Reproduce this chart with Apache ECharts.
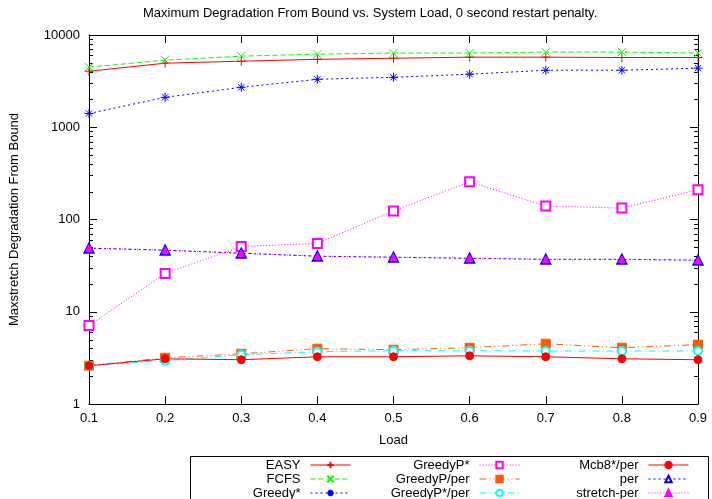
<!DOCTYPE html>
<html>
<head>
<meta charset="utf-8">
<script src="https://cdn.jsdelivr.net/npm/echarts@6/dist/echarts.min.js"></script>
<style>
  html, body { margin: 0; padding: 0; background: #fff; }
  #chart { width: 712px; height: 499px; }
</style>
</head>
<body>
<div id="chart"></div>
<script>
// System load levels on the x axis
const loads = ['0.1', '0.2', '0.3', '0.4', '0.5', '0.6', '0.7', '0.8', '0.9'];

// Maximum stretch degradation from bound, one array per scheduler
const easy        = [4050, 4950, 5200, 5450, 5600, 5750, 5750, 5700, 5700];
const fcfs        = [4480, 5340, 5900, 6200, 6370, 6370, 6530, 6530, 6370];
const greedyStar  = [1410, 2110, 2710, 3310, 3480, 3760, 4150, 4150, 4370];
const greedyPStar = [7.1, 26, 51, 55, 124, 256, 140, 133, 210];
const greedyPPer  = [2.6, 3.17, 3.5, 3.98, 3.88, 4.07, 4.5, 4.07, 4.4];
const greedyPStarPer = [2.6, 2.94, 3.42, 3.69, 3.78, 3.78, 3.75, 3.75, 3.75];
const mcb8StarPer = [2.6, 3.09, 3.02, 3.25, 3.25, 3.33, 3.25, 3.09, 3.02];
const perVals     = [48.9, 46.5, 43.1, 40, 39, 38, 37, 37, 36.2];
const stretchPer  = [48.9, 46.5, 43.1, 40, 39, 38, 37, 37, 36.2];

// Decade labels of the log axis
const yTicks = [1, 10, 100, 1000, 10000];

const FONT = 'Liberation Sans';

const PLUS  = 'path://M0,5L10,5M5,0L5,10';
const CROSS = 'path://M0,0L10,10M10,0L0,10';
const STAR  = 'path://M0,5L10,5M5,0L5,10M1.5,1.5L8.5,8.5M8.5,1.5L1.5,8.5';

function line(name, data, color, dash, symbol, size) {
  return {
    name: name,
    type: 'line',
    data: data,
    symbol: symbol,
    symbolSize: size,
    showAllSymbol: true,
    animation: false,
    lineStyle: { color: color, width: 1, type: dash },
    itemStyle: { color: color, borderColor: color, borderWidth: 1 },
    emphasis: { disabled: true }
  };
}

// Minor tick positions of the log axis (2..9 within each decade)
const minorTicks = [];
for (let d = 0; d < yTicks.length - 1; d++) {
  for (let m = 2; m <= 9; m++) minorTicks.push([0, m * yTicks[d]]);
}

const minorTickSeries = {
  type: 'custom',
  silent: true,
  animation: false,
  data: minorTicks,
  encode: { x: 0, y: 1 },
  z: 1,
  renderItem: function (params, api) {
    const v = api.value(1);
    const pl = api.coord([0, v]);
    const pr = api.coord([loads.length - 1, v]);
    const st = { stroke: '#000', lineWidth: 1 };
    return {
      type: 'group',
      children: [
        { type: 'line', shape: { x1: pl[0], y1: Math.round(pl[1]) + 0.5, x2: pl[0] + 4, y2: Math.round(pl[1]) + 0.5 }, style: st },
        { type: 'line', shape: { x1: pr[0] - 4, y1: Math.round(pr[1]) + 0.5, x2: pr[0], y2: Math.round(pr[1]) + 0.5 }, style: st }
      ]
    };
  }
};

const legendCommon = {
  orient: 'vertical',
  align: 'right',
  top: 458,
  height: 80,
  padding: 0,
  itemGap: 0,
  itemWidth: 40,
  itemHeight: 8,
  selectedMode: false,
  lineStyle: { width: 1 },
  textStyle: { fontFamily: FONT, fontSize: 13, color: '#000', lineHeight: 14, padding: [0, 5, 0, 0] }
};

const axisLine = { show: true, lineStyle: { color: '#000', width: 1 } };
const tick = { show: true, inside: true, length: 8, lineStyle: { color: '#000' } };

const chart = echarts.init(document.getElementById('chart'), null, { renderer: 'canvas' });
chart.setOption({
  backgroundColor: '#fff',
  animation: false,
  title: {
    text: 'Maximum Degradation From Bound vs. System Load, 0 second restart penalty.',
    left: 143,
    top: 7,
    padding: 0,
    textStyle: { fontFamily: FONT, fontSize: 13, fontWeight: 'normal', color: '#000' }
  },
  grid: { left: 89, right: 14, top: 35, bottom: 95, containLabel: false },
  legend: [
    Object.assign({ data: ['EASY', 'FCFS', 'Greedy*'], right: 361 }, legendCommon),
    Object.assign({ data: ['GreedyP*', 'GreedyP/per', 'GreedyP*/per'], right: 192 }, legendCommon),
    Object.assign({ data: ['Mcb8*/per', 'per', 'stretch-per'], right: 23 }, legendCommon)
  ],
  graphic: [
    { type: 'rect', shape: { x: 190.5, y: 456.5, width: 518, height: 60 }, style: { fill: 'none', stroke: '#000', lineWidth: 1 }, silent: true }
  ],
  xAxis: [
    {
      type: 'category',
      data: loads,
      boundaryGap: false,
      position: 'bottom',
      name: 'Load',
      nameLocation: 'middle',
      nameGap: 30,
      nameTextStyle: { fontFamily: FONT, fontSize: 13, color: '#000' },
      axisLine: axisLine,
      axisTick: Object.assign({ alignWithLabel: true }, tick),
      axisLabel: { fontFamily: FONT, fontSize: 13, color: '#000', margin: 8 },
      splitLine: { show: false }
    },
    {
      type: 'category',
      data: loads,
      boundaryGap: false,
      position: 'top',
      axisLine: axisLine,
      axisTick: tick,
      axisLabel: { show: false },
      splitLine: { show: false }
    }
  ],
  yAxis: [
    {
      type: 'log',
      logBase: 10,
      min: yTicks[0],
      max: yTicks[yTicks.length - 1],
      position: 'left',
      name: 'Maxstretch Degradation From Bound',
      nameLocation: 'middle',
      nameGap: 68,
      nameTextStyle: { fontFamily: FONT, fontSize: 13, color: '#000' },
      axisLine: axisLine,
      axisTick: tick,
      axisLabel: {
        fontFamily: FONT, fontSize: 13, color: '#000', margin: 9,
        formatter: function (v) { return String(Math.round(v)); }
      },
      splitLine: { show: false }
    },
    {
      type: 'log',
      logBase: 10,
      min: yTicks[0],
      max: yTicks[yTicks.length - 1],
      position: 'right',
      axisLine: axisLine,
      axisTick: tick,
      axisLabel: { show: false },
      splitLine: { show: false }
    }
  ],
  series: [
    minorTickSeries,
    line('EASY', easy, '#ff0000', 'solid', PLUS, 9),
    line('FCFS', fcfs, '#00ff00', [5, 3], CROSS, 8),
    line('Greedy*', greedyStar, '#0000ff', [2, 3], STAR, 9),
    line('GreedyP*', greedyPStar, '#ff00ff', [1, 2], 'emptyRect', 9),
    line('GreedyP/per', greedyPPer, '#ff5a00', [7, 3, 1, 3, 1, 3], 'rect', 9),
    line('GreedyP*/per', greedyPStarPer, '#00ffff', [7, 3, 1, 3], 'emptyCircle', 8),
    line('Mcb8*/per', mcb8StarPer, '#ff0000', 'solid', 'circle', 8),
    line('per', perVals, '#0000ff', [2, 3], 'emptyTriangle', 9),
    line('stretch-per', stretchPer, '#ff00ff', [1, 2], 'triangle', 7)
  ]
});
</script>
</body>
</html>
